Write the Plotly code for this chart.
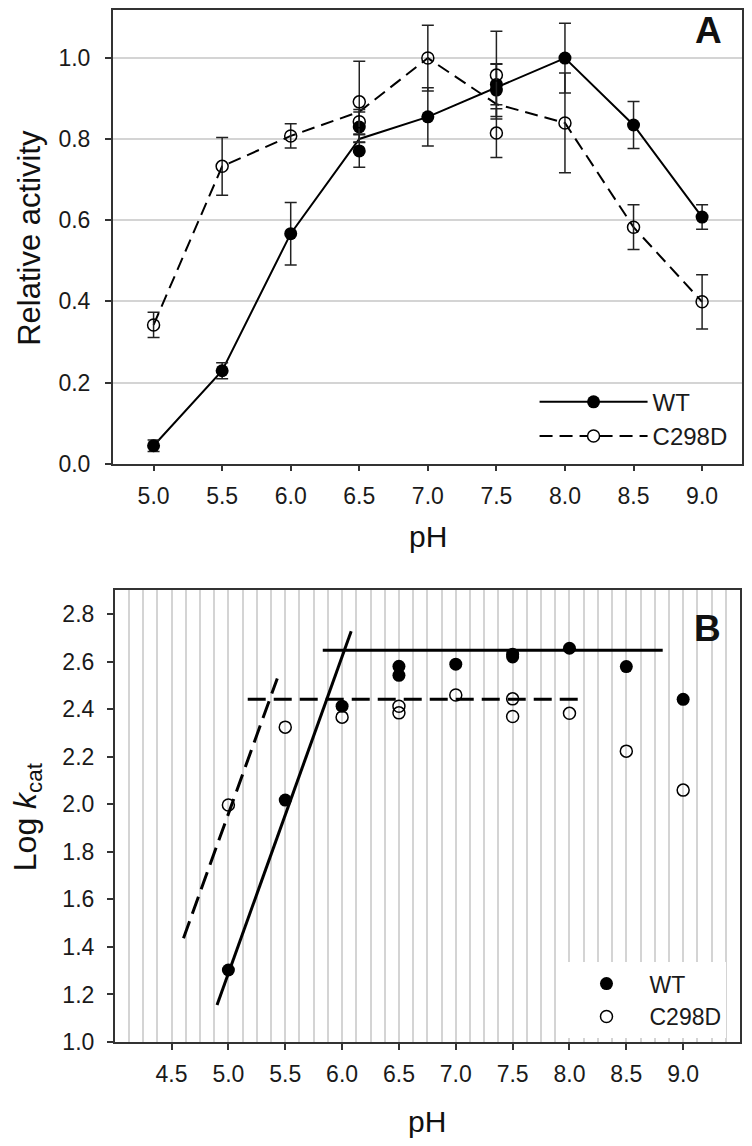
import plotly.graph_objects as go
import pandas as pd

# ---------------- Data: panel A (relative activity) ----------------
ph_a_wt = [5.0, 5.5, 6.0, 6.5, 6.5, 7.0, 7.5, 7.5, 8.0, 8.5, 9.0]
act_wt = [0.044, 0.229, 0.567, 0.830, 0.771, 0.855, 0.935, 0.921, 1.000, 0.835, 0.608]
err_wt = [0.014, 0.020, 0.077, 0.037, 0.040, 0.072, 0.050, 0.065, 0.086, 0.058, 0.030]

ph_a_mut = [5.0, 5.5, 6.0, 6.5, 6.5, 7.0, 7.5, 7.5, 8.0, 8.5, 9.0]
act_mut = [0.342, 0.733, 0.808, 0.892, 0.843, 1.000, 0.958, 0.815, 0.840, 0.583, 0.399]
err_mut = [0.031, 0.071, 0.030, 0.100, 0.030, 0.081, 0.108, 0.060, 0.123, 0.055, 0.067]

# ---------------- Data: panel B (log kcat) ----------------
ph_b_wt = [5.0, 5.5, 6.0, 6.5, 6.5, 7.0, 7.5, 7.5, 8.0, 8.5, 9.0]
logk_wt = [1.303, 2.018, 2.413, 2.581, 2.543, 2.590, 2.632, 2.620, 2.657, 2.580, 2.442]
ph_b_mut = [5.0, 5.5, 6.0, 6.5, 6.5, 7.0, 7.5, 7.5, 8.0, 8.5, 9.0]
logk_mut = [1.997, 2.325, 2.367, 2.413, 2.385, 2.460, 2.444, 2.370, 2.383, 2.224, 2.060]

# fitted limbs
wt_acid_x = [4.90, 6.08]
wt_acid_y = [1.156, 2.728]
wt_plateau_x = [5.83, 8.82]
wt_plateau_y = [2.649, 2.649]
mut_acid_x = [4.605, 5.43]
mut_acid_y = [1.437, 2.53]
mut_plateau_x = [5.17, 8.08]
mut_plateau_y = [2.442, 2.442]

# tick labels
xticks_a = [5.0, 5.5, 6.0, 6.5, 7.0, 7.5, 8.0, 8.5, 9.0]
yticks_a = [0.0, 0.2, 0.4, 0.6, 0.8, 1.0]
xticks_b = [4.5, 5.0, 5.5, 6.0, 6.5, 7.0, 7.5, 8.0, 8.5, 9.0]
xticks_b_edges = [4.0, 9.5]
yticks_b = [1.0, 1.2, 1.4, 1.6, 1.8, 2.0, 2.2, 2.4, 2.6, 2.8]

# page geometry: default 8px body margin around the figure
BODY = 8
PAGE_W, PAGE_H = 752, 1160
REF_H = 1146
K = PAGE_H / REF_H
W, H = PAGE_W - 2 * BODY, PAGE_H - 2 * BODY
FONT = "Liberation Sans, Arial, Helvetica, sans-serif"
AX = "#333333"
GRID = "#d4d4d4"


def px(x):
    return min(1.0, max(0.0, (x - BODY) / W))


def py(y):
    return min(1.0, max(0.0, 1 - (y * K - BODY) / H))


mean_wt = pd.DataFrame({"ph": ph_a_wt, "v": act_wt}).groupby("ph", as_index=False).mean()
mean_mut = pd.DataFrame({"ph": ph_a_mut, "v": act_mut}).groupby("ph", as_index=False).mean()

fig = go.Figure()

# ---- Panel A lines (through means) ----
fig.add_trace(go.Scatter(x=mean_wt["ph"], y=mean_wt["v"], mode="lines",
                         line=dict(color="black", width=2), showlegend=False,
                         xaxis="x", yaxis="y"))
fig.add_trace(go.Scatter(x=mean_mut["ph"], y=mean_mut["v"], mode="lines",
                         line=dict(color="black", width=2, dash="13px,7px"), showlegend=False,
                         xaxis="x", yaxis="y"))
# ---- Panel A points with error bars ----
fig.add_trace(go.Scatter(x=ph_a_wt, y=act_wt, mode="markers",
                         marker=dict(symbol="circle", size=13, color="black"),
                         error_y=dict(type="data", array=err_wt, color="#222222", thickness=1.5, width=6),
                         showlegend=False, xaxis="x", yaxis="y"))
fig.add_trace(go.Scatter(x=ph_a_mut, y=act_mut, mode="markers",
                         marker=dict(symbol="circle-open", size=12, color="black", line=dict(width=1.5)),
                         error_y=dict(type="data", array=err_mut, color="#222222", thickness=1.5, width=6),
                         showlegend=False, xaxis="x", yaxis="y"))
# legend keys for panel A
fig.add_trace(go.Scatter(x=[None], y=[None], mode="lines+markers", name="WT",
                         line=dict(color="black", width=2),
                         marker=dict(symbol="circle", size=13, color="black"),
                         legend="legend", xaxis="x", yaxis="y"))
fig.add_trace(go.Scatter(x=[None], y=[None], mode="lines+markers", name="C298D",
                         line=dict(color="black", width=2, dash="13px,7px"),
                         marker=dict(symbol="circle", size=12, color="white", line=dict(width=1.5, color="black")),
                         legend="legend", xaxis="x", yaxis="y"))

# ---- Panel B fitted limbs ----
for xs, ys, dash in [(wt_acid_x, wt_acid_y, "solid"), (wt_plateau_x, wt_plateau_y, "solid"),
                     (mut_acid_x, mut_acid_y, "18px,8px"), (mut_plateau_x, mut_plateau_y, "18px,8px")]:
    fig.add_trace(go.Scatter(x=xs, y=ys, mode="lines", line=dict(color="black", width=3, dash=dash),
                             showlegend=False, xaxis="x2", yaxis="y2"))
# ---- Panel B points ----
fig.add_trace(go.Scatter(x=ph_b_wt, y=logk_wt, mode="markers", name="WT",
                         marker=dict(symbol="circle", size=13, color="black"),
                         legend="legend2", xaxis="x2", yaxis="y2"))
fig.add_trace(go.Scatter(x=ph_b_mut, y=logk_mut, mode="markers", name="C298D",
                         marker=dict(symbol="circle-open", size=12, color="black", line=dict(width=1.5)),
                         legend="legend2", xaxis="x2", yaxis="y2"))

axis_common = dict(showline=True, linecolor=AX, linewidth=1.5, mirror=True, ticks="outside",
                   ticklen=6, tickwidth=1.5, tickcolor=AX, zeroline=False,
                   tickfont=dict(family=FONT, size=23, color="#1a1a1a"))

fig.update_layout(
    width=W, height=H,
    margin=dict(l=0, r=0, t=0, b=0),
    paper_bgcolor="white", plot_bgcolor="white",
    font=dict(family=FONT, color="#1a1a1a"),
    xaxis=dict(domain=[px(113), px(744)], range=[4.702, 9.291], tickmode="array",
               tickvals=xticks_a, ticktext=[f"{v:.1f}" for v in xticks_a], showgrid=False,
               ticklabelstandoff=5, anchor="y", **axis_common),
    yaxis=dict(domain=[py(462), py(7.9)], range=[0, 1.1185], tickmode="array",
               tickvals=yticks_a, ticktext=[f"{v:.1f}" for v in yticks_a],
               showgrid=True, gridcolor=GRID, gridwidth=1.5, ticklabelstandoff=10,
               anchor="x", **axis_common),
    xaxis2=dict(domain=[px(115), px(742)], range=[4.0, 9.5], tickmode="array",
                tickvals=xticks_b, ticktext=[f"{v:.1f}" for v in xticks_b],
                showgrid=True, gridcolor=GRID, gridwidth=1.5,
                minor=dict(tickmode="linear", tick0=4.0, dtick=0.125, showgrid=True,
                           gridcolor=GRID, gridwidth=1.5, ticks=""),
                ticklabelstandoff=5, anchor="y2", **axis_common),
    xaxis3=dict(overlaying="x2", anchor="y2", side="bottom", range=[4.0, 9.5],
                domain=[px(115), px(742)], tickmode="array", tickvals=xticks_b_edges,
                showticklabels=False, ticks="outside", ticklen=6, tickwidth=1.5, tickcolor=AX,
                showline=False, showgrid=False, zeroline=False),
    yaxis2=dict(domain=[py(1041), py(589)], range=[1.0, 2.9], tickmode="array",
                tickvals=yticks_b, ticktext=[f"{v:.1f}" for v in yticks_b], showgrid=False,
                ticklabelstandoff=8, anchor="x2", **axis_common),
    legend=dict(x=px(536), y=py(378), xanchor="left", yanchor="top",
                bgcolor="rgba(0,0,0,0)", borderwidth=0, itemwidth=108,
                font=dict(family=FONT, size=24, color="#1a1a1a"), tracegroupgap=0),
    legend2=dict(x=px(565), y=py(961), xanchor="left", yanchor="top",
                 bgcolor="white", borderwidth=0, itemwidth=76,
                 font=dict(family=FONT, size=23, color="#1a1a1a"), tracegroupgap=0),
)

annotations = [
    dict(text="<b>A</b>", x=px(710), y=py(28), font=dict(size=37)),
    dict(text="<b>B</b>", x=px(709), y=py(627), font=dict(size=37)),
    dict(text="Relative activity", x=px(30), y=py(236), textangle=-90, font=dict(size=31)),
    dict(text="Log <i>k</i><sub>cat</sub>", x=px(27), y=py(815), textangle=-90, font=dict(size=32)),
    dict(text="pH", x=px(429), y=py(535), font=dict(size=30)),
    dict(text="pH", x=px(428), y=py(1121), font=dict(size=30)),
]
for a in annotations:
    a.update(xref="paper", yref="paper", showarrow=False, xanchor="center", yanchor="middle")
    a["font"].update(family=FONT, color="#111111")
    fig.add_annotation(**a)

fig.write_html("out.html", config={"displayModeBar": False})
